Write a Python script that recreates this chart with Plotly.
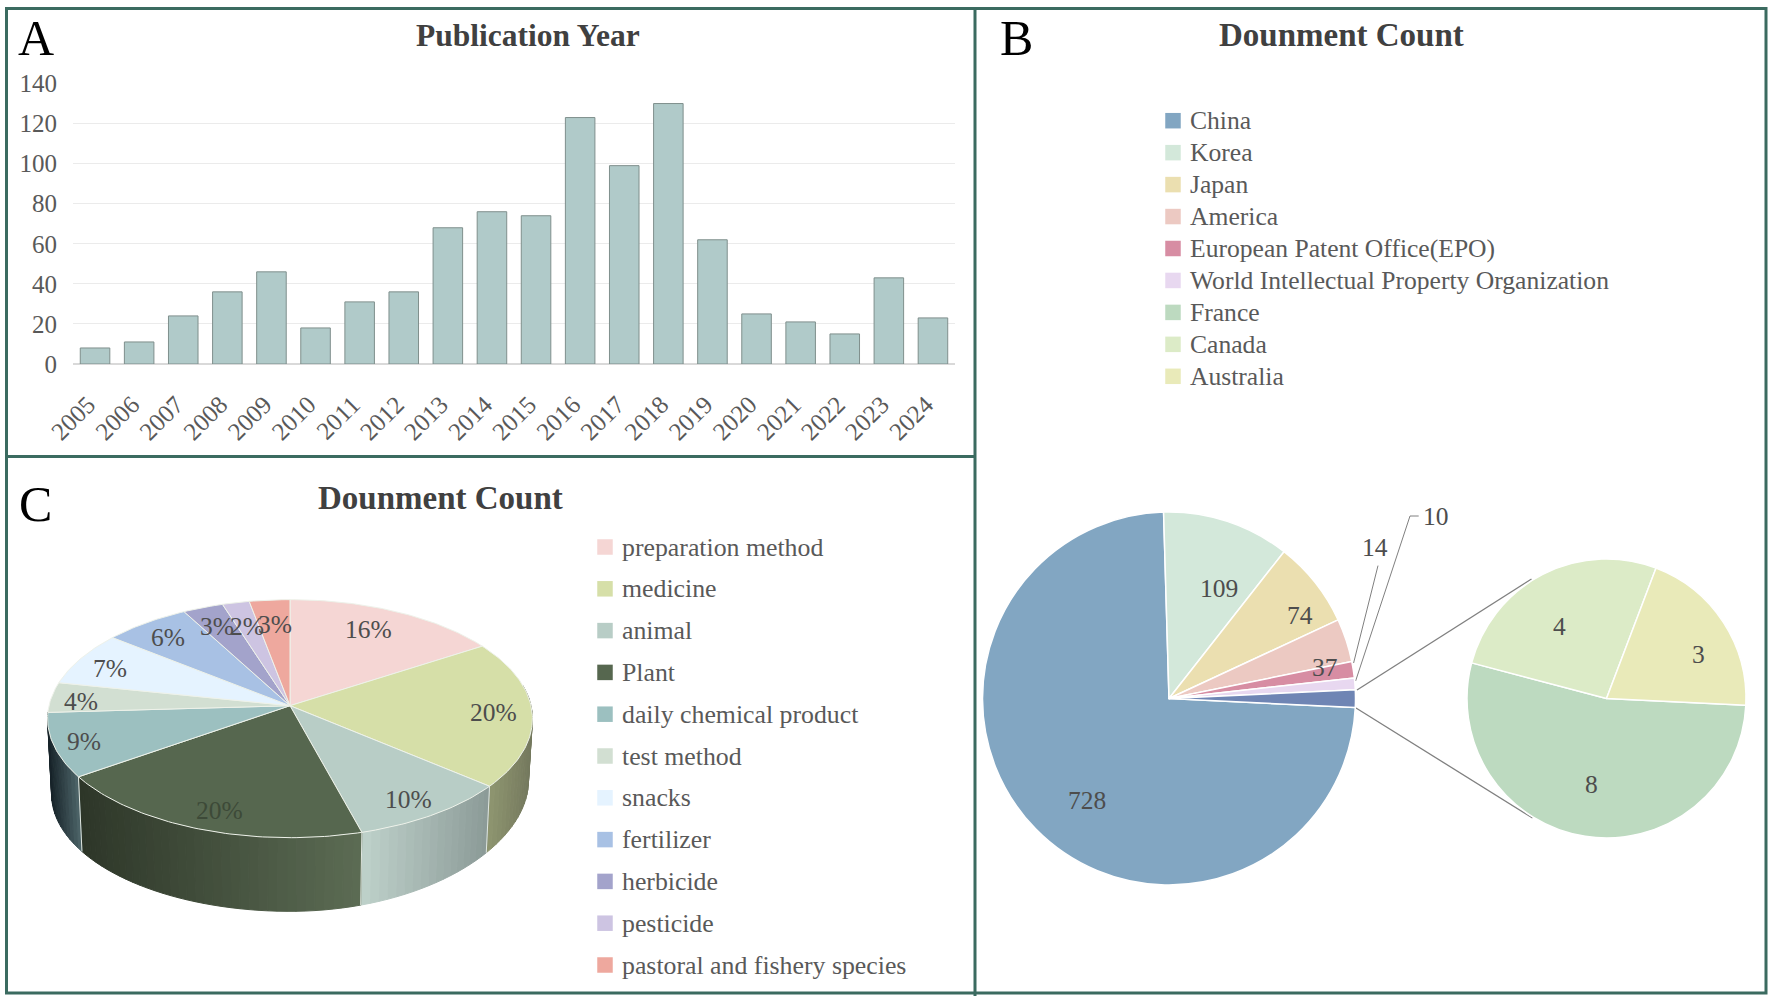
import numpy as np
import plotly.graph_objects as go

W, H = 1772, 999
SERIF = "Liberation Serif"

# ---- data ----
years = [str(y) for y in range(2005, 2025)]
counts = [8, 11, 24, 36, 46, 18, 31, 36, 68, 76, 74, 123, 99, 130, 62, 25, 21, 15, 43, 23]

main_names = ["China", "Korea", "Japan", "America", "European Patent Office(EPO)",
              "World Intellectual Property Organization"]
main_values = [728, 109, 74, 37, 14, 10]
main_colors = ["#82a6c2", "#d3e8da", "#ebdfb0", "#ecc9c2", "#d78da3", "#e8d8f0"]
other_color = "#6f85b4"
detail_names = ["France", "Canada", "Australia"]
detail_values = [8, 4, 3]
detail_colors = ["#bddac0", "#dcebc7", "#e9eab9"]

topic_names = ["preparation method", "medicine", "animal", "Plant", "daily chemical product",
               "test method", "snacks", "fertilizer", "herbicide", "pesticide",
               "pastoral and fishery species"]
topic_share = [16, 20, 9.7, 19.7, 8.7, 4.1, 7.4, 6.4, 3, 2, 3]
topic_colors = ["#f5d6d4", "#d6dfa8", "#b8cdc6", "#56674f", "#9cc0c0", "#d2dfd2",
                "#e5f3ff", "#a8c1e4", "#a3a3cb", "#cdc4e2", "#eea89e"]
# wall shading (left colour, right colour)
wall_shades = {1: ("#8f9670", "#7a7f62"), 2: ("#bfd2cb", "#8b9a97"),
               3: ("#2d3628", "#5c6c54"), 4: ("#18242a", "#4f676b")}

# ---- layout constants (pixels of the 1772x999 page) ----
main_c, main_r = (1169, 698.5), 186.5
det_c, det_r = (1606.5, 698.5), 139.5
ROT = 92.8

def dom(c, r):
    return dict(x=[(c[0] - r) / W, (c[0] + r) / W], y=[1 - (c[1] + r) / H, 1 - (c[1] - r) / H])

fig = go.Figure()

# ---- A: bars ----
fig.add_bar(x=years, y=counts, marker=dict(color="#b0cac9", line=dict(color="#7f8f8c", width=1)),
            width=0.67, showlegend=False, hoverinfo="x+y")

# ---- overlay axis helpers ----
def ov(xs, ys, **kw):
    fig.add_trace(go.Scatter(x=list(xs), y=list(ys), xaxis="x2", yaxis="y2",
                             showlegend=False, hoverinfo="skip", **kw))

# ---- C: perspective pie from the shares ----
CX, CY, A_, B_, K = 290.0, 705.7, 241.0, 117.6, 0.109
CY2, A2, B2 = 781.6, 237.0, 115.6

def proj(theta_deg, cx, cy, a, b, tilt=0.0):
    t = np.radians(theta_deg)
    u, v = np.sin(t), -np.cos(t)
    s = 1 / (1 - K * v)
    return cx + a * u * s, cy + b * v * s - tilt * np.maximum(u, 0) ** 2

TILT = 13.5

def mix(c1, c2, f):
    a = [int(c1[i:i + 2], 16) for i in (1, 3, 5)]
    b = [int(c2[i:i + 2], 16) for i in (1, 3, 5)]
    return "#%02x%02x%02x" % tuple(round(p + (q - p) * f) for p, q in zip(a, b))

edges = np.concatenate([[0], np.cumsum(topic_share)]) * 360 / sum(topic_share)
for i, (c1, c2) in wall_shades.items():
    a0, a1 = max(edges[i], 80), min(edges[i + 1], 280)
    n = max(2, int((a1 - a0) / 2))
    ths = np.linspace(a0, a1, n + 1)
    x0 = proj(a0, CX, CY, A_, B_)[0]
    x1 = proj(a1, CX, CY, A_, B_)[0]
    lo, hi = min(x0, x1), max(x0, x1)
    for p, q in zip(ths[:-1], ths[1:]):
        seg = np.linspace(p, q, 3)
        xt, yt = proj(seg, CX, CY, A_, B_)
        xb, yb = proj(seg[::-1], CX, CY2, A2, B2, TILT)
        f = (proj((p + q) / 2, CX, CY, A_, B_)[0] - lo) / max(hi - lo, 1)
        col = mix(c1, c2, f)
        ov(np.r_[xt, xb, xt[0]], np.r_[yt, yb, yt[0]], mode="lines", fill="toself",
           fillcolor=col, line=dict(color=col, width=1))
for e in edges[2:5]:
    xt, yt = proj(e, CX, CY, A_, B_)
    xb, yb = proj(e, CX, CY2, A2, B2, TILT)
    ov([xt, xb], [yt, yb], mode="lines", line=dict(color="#dfe6df", width=1))

for i, col in enumerate(topic_colors):
    arc = np.linspace(edges[i], edges[i + 1], max(3, int(edges[i + 1] - edges[i]) + 1))
    xa, ya = proj(arc, CX, CY, A_, B_)
    ov(np.r_[CX, xa, CX], np.r_[CY, ya, CY], mode="lines", fill="toself", fillcolor=col,
       line=dict(color="#eef2ea", width=1))

# ---- legend swatches ----
leg_b_names = main_names + detail_names
leg_b_colors = main_colors + detail_colors
leg_b_y = [120.7 + 31.95 * i for i in range(len(leg_b_names))]
leg_c_y = [547 + 41.8 * i for i in range(len(topic_names))]
ov([1173] * len(leg_b_y), leg_b_y, mode="markers",
   marker=dict(symbol="square", size=15.5, color=leg_b_colors, line=dict(width=0)))
ov([605] * len(leg_c_y), leg_c_y, mode="markers",
   marker=dict(symbol="square", size=15.5, color=topic_colors, line=dict(width=0)))

# ---- leader lines ----
for xs, ys, w in [([1357, 1531.5], [690, 579], 1.3), ([1356, 1532.5], [708, 818], 1.3),
                  ([1378, 1353.6], [565.6, 663], 1), ([1418.7, 1410, 1355.6], [516, 516, 681], 1)]:
    ov(xs, ys, mode="lines", line=dict(color="#808080", width=w))

# ---- B: pies ----
fig.add_trace(go.Pie(values=main_values + [sum(detail_values)], labels=main_names + ["Other"],
                     sort=False, direction="clockwise", rotation=ROT, domain=dom(main_c, main_r),
                     marker=dict(colors=main_colors + [other_color], line=dict(color="white", width=1.5)),
                     textinfo="none", showlegend=False))
fig.add_trace(go.Pie(values=detail_values, labels=detail_names, sort=False, direction="clockwise",
                     rotation=ROT, domain=dom(det_c, det_r),
                     marker=dict(colors=detail_colors, line=dict(color="white", width=1.5)),
                     textinfo="none", showlegend=False))

# ---- text ----
anns = []
def txt(x, y, s, size, color="#595959", bold=False, anchor="center"):
    anns.append(dict(x=x / W, y=1 - y / H, xref="paper", yref="paper", text=f"<b>{s}</b>" if bold else s,
                     showarrow=False, xanchor=anchor, yanchor="middle",
                     font=dict(family=SERIF, size=size, color=color)))

LAB = 25.5
txt(528, 36, "Publication Year", 31.5, "#404040", True)
txt(1341, 35, "Dounment Count", 33, "#404040", True)
txt(440, 498, "Dounment Count", 33, "#404040", True)
for (x, y, s) in [(36, 38, "A"), (1016, 38, "B"), (35, 504, "C")]:
    txt(x, y, s, 50, "#000000")
for n, y in zip(leg_b_names, leg_b_y):
    txt(1188, y, n, 25.6, anchor="left")
for n, y in zip(topic_names, leg_c_y):
    txt(620, y, n, 25.8, anchor="left")

main_pos = [(1087, 800), (1219, 588), (1300, 615), (1325, 667), (1375, 547), (1436, 516)]
for v, (x, y) in zip(main_values, main_pos):
    txt(x, y, str(v), LAB, "#4d4d4d")
det_pos = [(1591, 784), (1559, 626), (1698, 654)]
for v, (x, y) in zip(detail_values, det_pos):
    txt(x, y, str(v), LAB, "#4d4d4d")
topic_pos = [(368, 629), (493, 712), (408, 799), (219, 810), (84, 741), (81, 701),
             (110, 668), (168, 637), (217, 626), (247, 626), (275, 624)]
for i, (v, (x, y)) in enumerate(zip(topic_share, topic_pos)):
    txt(x, y, f"{round(v)}%", LAB, "#3d4a38" if i == 3 else "#4d4d4d")

# ---- frame ----
FRAME = "#3b6b60"
shapes = [dict(type="rect", xref="paper", yref="paper", x0=6.5 / W, x1=1766 / W, y0=1 - 993 / H, y1=1 - 8.5 / H,
               line=dict(color=FRAME, width=3)),
          dict(type="line", xref="paper", yref="paper", x0=975 / W, x1=975 / W, y0=1 - 996 / H, y1=1 - 8.5 / H,
               line=dict(color=FRAME, width=3)),
          dict(type="line", xref="paper", yref="paper", x0=6.5 / W, x1=975 / W, y0=1 - 456.5 / H, y1=1 - 456.5 / H,
               line=dict(color=FRAME, width=3))]

fig.update_layout(
    width=W, height=H, margin=dict(l=0, r=0, t=0, b=0, autoexpand=False), autosize=False,
    paper_bgcolor="white", plot_bgcolor="rgba(0,0,0,0)", showlegend=False,
    annotations=anns, shapes=shapes,
    xaxis=dict(domain=[73 / W, 955 / W], type="category", showgrid=False, zeroline=False, showline=False,
               ticks="", tickangle=-45, tickfont=dict(family=SERIF, size=25, color="#595959"),
               ticklabelstandoff=20, ticklabelshift=-7),
    yaxis=dict(domain=[1 - 364 / H, 1 - 83.5 / H], range=[0, 140], dtick=20, gridcolor="#ebebeb", gridwidth=1,
               zeroline=True, zerolinecolor="#d9d9d9", zerolinewidth=1.5, showline=False, ticks="",
               tickfont=dict(family=SERIF, size=25, color="#595959"), ticklabelstandoff=15),
    xaxis2=dict(domain=[0, 1], range=[0, W], visible=False, anchor="y2"),
    yaxis2=dict(domain=[0, 1], range=[H, 0], visible=False, anchor="x2"),
)

fig.write_html("out.html", config={"displayModeBar": False},
               post_script="document.body.style.margin='0';")
